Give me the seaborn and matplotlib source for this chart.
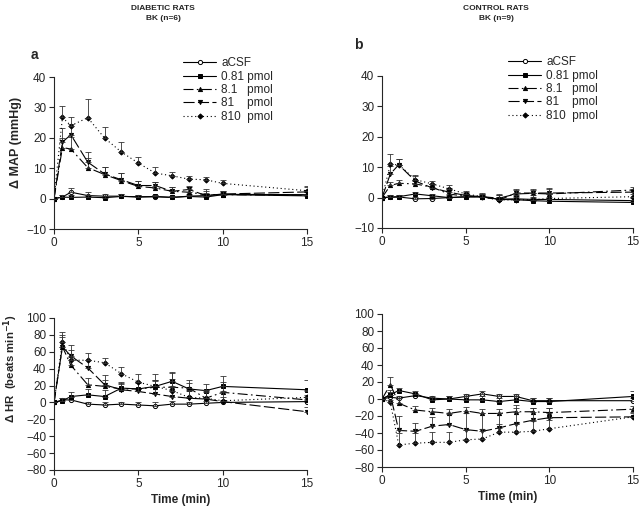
import numpy as np
import pandas as pd
import seaborn as sns
import matplotlib.pyplot as plt

time = [0, 0.5, 1, 2, 3, 4, 5, 6, 7, 8, 9, 10, 15]
doses = ["aCSF", "0.81 pmol", "8.1   pmol", "81    pmol", "810  pmol"]

# MAP, diabetic rats (panel a)
map_diab = {
    "aCSF":       [0, 0.5, 2.1, 1.0, 0.8, 0.8, 0.5, 0.6, 0.4, 0.8, 1.0, 1.4, 1.3],
    "0.81 pmol":  [0, 0.5, 0.4, 0.5, 0.3, 0.7, 0.6, 0.7, 0.4, 0.7, 0.5, 1.3, 0.9],
    "8.1   pmol": [0, 16.8, 16.3, 10.2, 7.9, 5.9, 4.0, 3.5, 2.4, 2.1, 1.3, 1.3, 1.1],
    "81    pmol": [0, 18.6, 21.0, 12.0, 8.1, 6.2, 4.3, 4.3, 2.4, 3.0, 1.0, 1.5, 2.2],
    "810  pmol":  [0, 26.7, 24.0, 26.6, 19.9, 15.3, 11.7, 8.4, 7.5, 6.4, 6.2, 5.0, 2.6],
}
map_diab_se = {
    "aCSF":       [0, 0.8, 1.5, 1.2, 0.6, 0.6, 0.6, 0.6, 0.6, 0.6, 0.8, 0.8, 0.8],
    "0.81 pmol":  [0, 0.8, 0.8, 0.6, 0.6, 0.8, 0.6, 0.6, 0.5, 0.6, 0.6, 0.6, 0.6],
    "8.1   pmol": [0, 3.0, 4.0, 3.0, 2.5, 2.5, 1.8, 1.9, 1.4, 1.6, 2.0, 1.2, 1.2],
    "81    pmol": [0, 4.5, 3.5, 3.2, 2.3, 2.2, 1.6, 1.1, 1.3, 1.3, 1.5, 1.0, 1.7],
    "810  pmol":  [0, 3.8, 3.0, 6.3, 3.6, 3.3, 2.1, 1.9, 1.2, 1.0, 0.9, 1.0, 1.4],
}

# MAP, control rats (panel b)
map_ctrl = {
    "aCSF":       [0, 0.1, 0.2, -0.4, -0.3, 0, 0.3, 0.2, -0.5, -0.4, -0.6, -0.6, -1.0],
    "0.81 pmol":  [0, 0.2, 0.3, 1.2, 0.6, 0, 0.2, 0.3, -0.6, -0.7, -1.0, -1.2, -1.6],
    "8.1   pmol": [0, 4.0, 4.7, 4.5, 3.4, 1.2, 0.4, 0.3, -0.2, 1.2, 1.4, 1.2, 2.5],
    "81    pmol": [0, 7.8, 10.8, 5.4, 3.2, 1.8, 0.7, 0.3, -0.8, 1.5, 1.5, 1.5, 1.8],
    "810  pmol":  [0, 10.9, 10.8, 5.9, 4.5, 2.9, 1.2, 0.3, -0.8, -0.7, -0.7, -0.3, 0.3],
}
map_ctrl_se = {
    "aCSF":       [0, 0.6, 0.6, 0.6, 0.6, 0.8, 0.6, 0.6, 0.8, 0.8, 0.8, 0.8, 0.8],
    "0.81 pmol":  [0, 0.6, 0.6, 0.8, 0.6, 0.6, 0.6, 0.6, 0.8, 0.8, 0.8, 0.8, 0.8],
    "8.1   pmol": [0, 1.2, 1.1, 1.2, 1.0, 1.2, 1.0, 1.0, 1.5, 1.2, 1.2, 1.5, 1.0],
    "81    pmol": [0, 2.5, 1.8, 1.6, 1.4, 1.3, 1.2, 1.2, 1.5, 1.2, 1.2, 1.5, 1.0],
    "810  pmol":  [0, 3.3, 1.8, 1.6, 1.1, 1.3, 0.9, 1.0, 1.5, 1.5, 1.5, 1.5, 1.0],
}

# HR, diabetic rats (panel c)
hr_diab = {
    "aCSF":       [0, 3, 3, -2, -3, -2, -3, -4, -2, -2, -1, 0, 1],
    "0.81 pmol":  [0, 2, 7, 9, 7, 17, 16, 19, 25, 16, 14, 19, 15],
    "8.1   pmol": [0, 66, 44, 21, 19, 16, 16, 18, 18, 17, 5, 12, 3],
    "81    pmol": [0, 66, 55, 41, 21, 15, 13, 10, 7, 5, 4, 1, -11],
    "810  pmol":  [0, 72, 50, 50, 47, 34, 24, 19, 14, 6, 5, 2, 6],
}
hr_diab_se = {
    "aCSF":       [0, 2, 3, 3, 3, 3, 4, 5, 4, 3, 3, 3, 3],
    "0.81 pmol":  [0, 3, 5, 7, 8, 7, 8, 8, 10, 7, 8, 12, 11],
    "8.1   pmol": [0, 12, 10, 8, 7, 6, 8, 8, 18, 10, 10, 12, 6],
    "81    pmol": [0, 14, 13, 9, 12, 8, 10, 15, 13, 10, 8, 5, 6],
    "810  pmol":  [0, 12, 12, 9, 6, 8, 10, 15, 14, 8, 10, 12, 8],
}

# HR, control rats (panel d)
hr_ctrl = {
    "aCSF":       [0, 2, 1, 4, 1, 0, 3, 6, 3, 3, -2, -2, -2],
    "0.81 pmol":  [0, 5, 10, 6, -1, 0, -1, -1, -3, -1, -3, -3, 3],
    "8.1   pmol": [0, 17, -5, -13, -15, -17, -14, -17, -17, -15, -15, -16, -12],
    "81    pmol": [0, 5, -37, -38, -32, -30, -36, -38, -34, -29, -25, -22, -21],
    "810  pmol":  [0, -4, -54, -52, -51, -51, -48, -47, -39, -39, -38, -35, -21],
}
hr_ctrl_se = {
    "aCSF":       [0, 3, 3, 3, 3, 4, 3, 3, 3, 3, 3, 3, 3],
    "0.81 pmol":  [0, 3, 3, 3, 3, 4, 4, 5, 4, 4, 4, 4, 6],
    "8.1   pmol": [0, 9, 6, 5, 5, 5, 5, 5, 5, 5, 5, 5, 4],
    "81    pmol": [0, 6, 17, 10, 11, 12, 20, 21, 17, 22, 15, 11, 6],
    "810  pmol":  [0, 3, 14, 12, 12, 12, 12, 12, 10, 10, 12, 10, 4],
}

# marker / line style per dose
styles = {
    "aCSF":       dict(marker="o", markerfacecolor="white", linestyle="-"),
    "0.81 pmol":  dict(marker="s", markerfacecolor="black", linestyle="-"),
    "8.1   pmol": dict(marker="^", markerfacecolor="black", linestyle=(0, (9, 3, 1.5, 3))),
    "81    pmol": dict(marker="v", markerfacecolor="black", linestyle=(0, (10, 3))),
    "810  pmol":  dict(marker="D", markerfacecolor="black", linestyle=(0, (1, 2.5))),
}

sns.set_style("ticks")
plt.rcParams["font.family"] = ["Liberation Sans", "DejaVu Sans"]

fig = plt.figure(figsize=(6.4, 5.08), dpi=100)
W, H = 640, 508


def px_axes(x0, x1, ybot, ytop):
    return fig.add_axes([x0 / W, (H - ybot) / H, (x1 - x0) / W, (ybot - ytop) / H])


def draw_panel(ax, means, ses, ylim, yticks):
    for d in doses:
        df = pd.DataFrame({"time": time, "value": means[d]})
        st = styles[d]
        sns.lineplot(data=df, x="time", y="value", ax=ax, color="black",
                     linewidth=0.8, markersize=3.0 if st["marker"] != "D" else 2.6,
                     markeredgecolor="black", markeredgewidth=0.7,
                     label=d, legend=False, **st)
        ax.errorbar(time, means[d], yerr=[np.zeros(len(time)), ses[d]], fmt="none",
                    ecolor="#333333", elinewidth=0.6, capsize=2.5, capthick=0.6)
    ax.set_xlim(0, 15)
    ax.set_ylim(*ylim)
    ax.set_xticks([0, 5, 10, 15])
    ax.set_yticks(yticks)
    ax.tick_params(labelsize=8.5, length=3.5, width=0.8, pad=2)
    for s in ["left", "bottom"]:
        ax.spines[s].set_linewidth(0.8)
    sns.despine(ax=ax)
    ax.set_xlabel("")
    ax.set_ylabel("")


ax_a = px_axes(54, 307, 229, 77)
ax_b = px_axes(382, 633, 228, 76)
ax_c = px_axes(54, 307, 470, 318)
ax_d = px_axes(382, 633, 467, 314)

draw_panel(ax_a, map_diab, map_diab_se, (-10, 40), [-10, 0, 10, 20, 30, 40])
draw_panel(ax_b, map_ctrl, map_ctrl_se, (-10, 40), [-10, 0, 10, 20, 30, 40])
draw_panel(ax_c, hr_diab, hr_diab_se, (-80, 100), list(range(-80, 101, 20)))
draw_panel(ax_d, hr_ctrl, hr_ctrl_se, (-80, 100), list(range(-80, 101, 20)))

ax_a.legend(loc="upper left", bbox_to_anchor=((183 - 54) / 253, 1.13), frameon=False,
            fontsize=8.5, handlelength=2.8, handletextpad=0.45, labelspacing=0.12,
            borderaxespad=0, borderpad=0)
ax_b.legend(loc="upper left", bbox_to_anchor=((508 - 382) / 251, 1.13), frameon=False,
            fontsize=8.5, handlelength=2.8, handletextpad=0.45, labelspacing=0.12,
            borderaxespad=0, borderpad=0)

ax_a.set_ylabel("Δ MAP (mmHg)", fontsize=9, fontweight="bold")
ax_a.yaxis.set_label_coords((22 - 54) / 253, 0.57)
ax_c.set_ylabel("Δ HR  (beats min$^{\\mathbf{-1}}$)", fontsize=8.2, fontweight="bold")
ax_c.yaxis.set_label_coords((20 - 54) / 253, 0.67)
ax_c.set_xlabel("Time (min)", fontsize=8.5, fontweight="bold", labelpad=3)
ax_d.set_xlabel("Time (min)", fontsize=8.5, fontweight="bold", labelpad=3)

fig.text(163 / W, 1 - 8 / H, "DIABETIC RATS", ha="center", va="center", fontsize=6, fontweight="bold")
fig.text(163 / W, 1 - 19 / H, "BK (n=6)", ha="center", va="center", fontsize=6, fontweight="bold")
fig.text(496 / W, 1 - 8 / H, "CONTROL RATS", ha="center", va="center", fontsize=6, fontweight="bold")
fig.text(496 / W, 1 - 19 / H, "BK (n=9)", ha="center", va="center", fontsize=6, fontweight="bold")
fig.text(34 / W, 1 - 55 / H, "a", ha="center", va="center", fontsize=10, fontweight="bold")
fig.text(358 / W, 1 - 45 / H, "b", ha="center", va="center", fontsize=10, fontweight="bold")

fig.savefig("out.png", dpi=100)
